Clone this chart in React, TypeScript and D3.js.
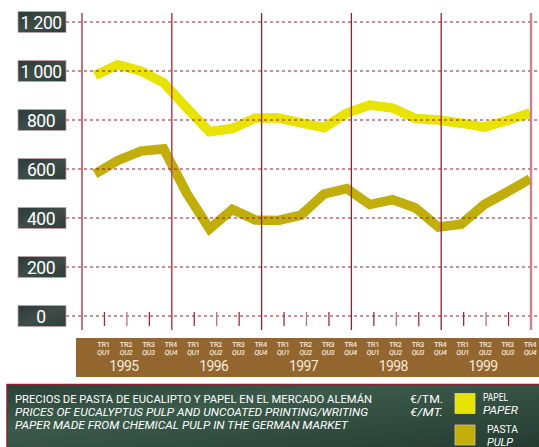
import React from 'react';
import * as d3 from 'd3';

// quarterly prices, €/t, 1995 Q1 .. 1999 Q4
const quarters = [
  '1995Q1', '1995Q2', '1995Q3', '1995Q4',
  '1996Q1', '1996Q2', '1996Q3', '1996Q4',
  '1997Q1', '1997Q2', '1997Q3', '1997Q4',
  '1998Q1', '1998Q2', '1998Q3', '1998Q4',
  '1999Q1', '1999Q2', '1999Q3', '1999Q4',
];
const papel = [982, 1025, 1000, 952, 850, 752, 765, 808, 808, 788, 769, 828, 861, 849, 806, 800, 787, 771, 798, 828];
const pasta = [580, 635, 673, 682, 502, 356, 435, 392, 390, 412, 498, 520, 455, 475, 441, 363, 375, 455, 506, 560];

const years = ['1995', '1996', '1997', '1998', '1999'];
const trLabels = ['TR1', 'TR2', 'TR3', 'TR4'];
const quLabels = ['QU1', 'QU2', 'QU3', 'QU4'];
const yTicks = [0, 200, 400, 600, 800, 1000, 1200];

const PAPEL_COLOR = '#e8e400';
const PASTA_COLOR = '#c1ae0a';
const GRID = '#9b1b30';

const fmt = (v: number) => (v >= 1000 ? `${Math.floor(v / 1000)} ${String(v % 1000).padStart(3, '0')}` : String(v));

const App = () => {
  const width = 539;
  const height = 447;

  // value axis
  const y = d3.scaleLinear().domain([0, 1200]).range([316, 22]);
  // quarter ticks on the time axis (0 = start of 1995, 20 = end of 1999)
  const q = d3.scaleLinear().domain([0, 20]).range([82, 531]);
  // data points
  const x = d3.scalePoint<string>().domain(quarters).range([95, 530]);

  const line = d3
    .line<number>()
    .x((_, i) => x(quarters[i]) as number)
    .y(d => y(d));

  const font = 'Roboto, "DejaVu Sans", sans-serif';

  return (
    <svg
      width={width}
      height={height}
      style={{ position: 'absolute', left: 0, top: 0, background: '#fff' }}
    >
      <defs>
        <linearGradient id="panel" x1="0" y1="0" x2="1" y2="1">
          <stop offset="0%" stopColor="#2a4237" />
          <stop offset="35%" stopColor="#3b5a4a" />
          <stop offset="70%" stopColor="#2f4a3d" />
          <stop offset="100%" stopColor="#243a31" />
        </linearGradient>
        <linearGradient id="box" x1="0" y1="0" x2="1" y2="1">
          <stop offset="0%" stopColor="#2c3a38" />
          <stop offset="50%" stopColor="#3e4d48" />
          <stop offset="100%" stopColor="#2f3d3a" />
        </linearGradient>
      </defs>

      {/* data lines */}
      <path d={line(pasta) || ''} fill="none" stroke={PASTA_COLOR} strokeWidth={9.5} strokeLinejoin="miter" />
      <path d={line(papel) || ''} fill="none" stroke={PAPEL_COLOR} strokeWidth={9.5} strokeLinejoin="miter" />

      {/* horizontal dashed grid */}
      {yTicks.map(t => (
        <line key={t} x1={66} x2={width} y1={y(t)} y2={y(t)} stroke={GRID} strokeWidth={1} strokeDasharray="3,3" />
      ))}

      {/* year separators */}
      {d3.range(0, 21, 4).map((k, i) => {
        const edge = i === 0 || i === 5;
        return (
          <line
            key={k}
            x1={q(k)}
            x2={q(k)}
            y1={13}
            y2={330}
            stroke={i < 2 ? '#b2505f' : edge ? '#c48690' : '#8b2332'}
            strokeWidth={i === 5 ? 2.5 : i < 2 ? 1.6 : 1.3}
          />
        );
      })}

      {/* small quarter ticks */}
      {d3.range(1, 20).filter(k => k % 4 !== 0).map(k => (
        <line key={k} x1={q(k)} x2={q(k)} y1={312} y2={326} stroke={k % 2 ? '#a32a3e' : '#c07080'} strokeWidth={1.3} />
      ))}

      {/* value labels */}
      {yTicks.map(t => (
        <g key={t}>
          <rect x={18} y={y(t) - 10.5} width={48} height={21} fill="url(#box)" stroke="#c9a2aa" strokeWidth={0.7} />
          <text x={41} y={y(t) + 6.5} textAnchor="middle" fill="#fff" fontFamily={font} fontSize={17.5} letterSpacing={-0.5}>
            {fmt(t)}
          </text>
        </g>
      ))}

      {/* time axis band */}
      <rect x={76} y={338} width={width - 76} height={39} fill="#93652f" />
      {quarters.map((d, i) => (
        <g key={d} fill="#efe4d2" fontFamily={font} fontWeight={500} textAnchor="middle">
          <text x={q(i + 1) - 1} y={347} fontSize={7.5} letterSpacing={-0.4}>{trLabels[i % 4]}</text>
          <text x={q(i + 1) - 1} y={355} fontSize={7.5} fontStyle="italic" letterSpacing={-0.4}>{quLabels[i % 4]}</text>
        </g>
      ))}
      {years.map((yr, i) => (
        <text
          key={yr}
          x={(q(i * 4) + q(i * 4 + 4)) / 2 - 3}
          y={371}
          textAnchor="middle"
          fill="#f3ead8"
          fontFamily={font}
          fontSize={14}
          letterSpacing={-0.6}
        >
          {yr}
        </text>
      ))}

      {/* legend panel */}
      <rect x={7} y={384.5} width={width - 6} height={64} fill="url(#panel)" stroke="#8b2232" strokeWidth={1.5} />
      <g fill="#fff" fontFamily={font} fontSize={11.5}>
        <text x={15} y={403} textLength={357} lengthAdjust="spacingAndGlyphs">
          PRECIOS DE PASTA DE EUCALIPTO Y PAPEL EN EL MERCADO ALEMÁN
        </text>
        <text x={15} y={415.5} fontStyle="italic" textLength={353} lengthAdjust="spacingAndGlyphs">
          PRICES OF EUCALYPTUS PULP AND UNCOATED PRINTING/WRITING
        </text>
        <text x={15} y={429} fontStyle="italic" textLength={333} lengthAdjust="spacingAndGlyphs">
          PAPER MADE FROM CHEMICAL PULP IN THE GERMAN MARKET
        </text>
        <text x={410} y={403} textLength={33} lengthAdjust="spacingAndGlyphs">€/TM.</text>
        <text x={410} y={415.5} fontStyle="italic" textLength={33} lengthAdjust="spacingAndGlyphs">€/MT.</text>

        <rect x={455} y={393.5} width={20} height={20} fill={PAPEL_COLOR} stroke="#d9d6a0" strokeWidth={0.8} />
        <rect x={455} y={425} width={20} height={20} fill={PASTA_COLOR} stroke="#cfc58a" strokeWidth={0.8} />
        <g fontSize={10.5}>
          <text x={483} y={400.5} textLength={25} lengthAdjust="spacingAndGlyphs">PAPEL</text>
          <text x={483} y={413.5} fontStyle="italic" textLength={35} lengthAdjust="spacingAndGlyphs">PAPER</text>
          <text x={487} y={432.5} textLength={31} lengthAdjust="spacingAndGlyphs">PASTA</text>
          <text x={487} y={445.5} fontStyle="italic" textLength={26} lengthAdjust="spacingAndGlyphs">PULP</text>
        </g>
      </g>
    </svg>
  );
};

export default App;
